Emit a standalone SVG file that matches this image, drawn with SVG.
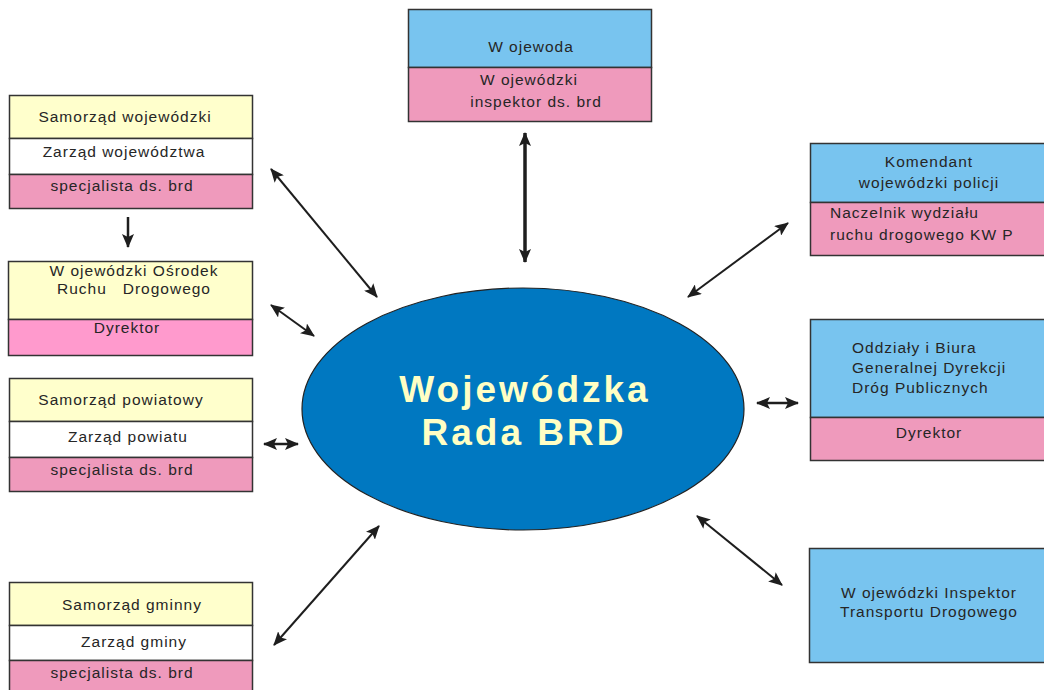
<svg xmlns="http://www.w3.org/2000/svg" width="1044" height="690" viewBox="0 0 1044 690">
<style>
.box{stroke:#333;stroke-width:1.5}
.y{fill:#FFFFCC}.w{fill:#FFFFFF}.p{fill:#EF9ABC}.p2{fill:#FF9ACD}.b{fill:#78C4EF}
.t{font-family:"Liberation Sans",Arial,sans-serif;font-size:15.5px;fill:#262626;letter-spacing:1px;text-anchor:middle;white-space:pre}
.l{text-anchor:start}
.big{font-family:"Liberation Sans",Arial,sans-serif;font-size:37px;font-weight:bold;fill:#FFFFC4;letter-spacing:3px;text-anchor:middle}
.c{stroke:#1e1e1e;stroke-width:2;fill:none;marker-start:url(#a);marker-end:url(#a)}
</style>
<defs>
<marker id="a" viewBox="0 0 14 12" refX="13" refY="6" markerWidth="14" markerHeight="12" markerUnits="userSpaceOnUse" orient="auto-start-reverse">
<path d="M0,0 L14,6 L0,12 L3,6 Z" fill="#1e1e1e"/>
</marker>
</defs>
<g id="connectors">
<line class="c" x1="271" y1="169" x2="377" y2="297"/>
<line class="c" x1="271" y1="305" x2="314" y2="336"/>
<line class="c" x1="264" y1="444" x2="298" y2="444" style="stroke-width:2.5"/>
<line class="c" x1="274" y1="645" x2="379" y2="526"/>
<line class="c" x1="525" y1="133" x2="525" y2="262" style="stroke-width:3.5"/>
<line class="c" x1="688" y1="297" x2="788" y2="223"/>
<line class="c" x1="757" y1="403" x2="798" y2="403" style="stroke-width:2.5"/>
<line class="c" x1="697" y1="516" x2="782" y2="585"/>
<line x1="128" y1="217" x2="128" y2="247" stroke="#1e1e1e" stroke-width="2.5" marker-end="url(#a)"/>
</g>
<g id="rada">
<ellipse cx="523" cy="409" rx="221" ry="121" fill="#0078C1" stroke="#222" stroke-width="1.2"/>
<text class="big" x="525" y="402">Wojewódzka</text>
<text class="big" x="524" y="445">Rada BRD</text>
</g>
<g id="samorzad-wojewodzki">
<rect class="box y" x="9.5" y="95.5" width="243" height="43"/>
<rect class="box w" x="9.5" y="138.5" width="243" height="36"/>
<rect class="box p" x="9.5" y="174.5" width="243" height="34"/>
<text class="t" x="125" y="122">Samorząd wojewódzki</text>
<text class="t" x="124" y="157">Zarząd województwa</text>
<text class="t" x="122" y="191">specjalista ds. brd</text>
</g>
<g id="word">
<rect class="box y" x="8.5" y="261.5" width="244" height="58"/>
<rect class="box p2" x="8.5" y="319.5" width="244" height="36"/>
<text class="t" x="134" y="276">W ojewódzki Ośrodek</text>
<text class="t" x="134" y="294">Ruchu   Drogowego</text>
<text class="t" x="127" y="333">Dyrektor</text>
</g>
<g id="samorzad-powiatowy">
<rect class="box y" x="9.5" y="378.5" width="243" height="43"/>
<rect class="box w" x="9.5" y="421.5" width="243" height="36"/>
<rect class="box p" x="9.5" y="457.5" width="243" height="34"/>
<text class="t" x="121" y="405">Samorząd powiatowy</text>
<text class="t" x="128" y="442">Zarząd powiatu</text>
<text class="t" x="122" y="475">specjalista ds. brd</text>
</g>
<g id="samorzad-gminny">
<rect class="box y" x="9.5" y="582.5" width="243" height="43"/>
<rect class="box w" x="9.5" y="625.5" width="243" height="35"/>
<rect class="box p" x="9.5" y="660.5" width="243" height="40"/>
<text class="t" x="132" y="610">Samorząd gminny</text>
<text class="t" x="134" y="647">Zarząd gminy</text>
<text class="t" x="122" y="678">specjalista ds. brd</text>
</g>
<g id="wojewoda">
<rect class="box b" x="408.5" y="9.5" width="243" height="58"/>
<rect class="box p" x="408.5" y="67.5" width="243" height="54"/>
<text class="t" x="531" y="52">W ojewoda</text>
<text class="t" x="529" y="85">W ojewódzki</text>
<text class="t" x="536" y="107">inspektor ds. brd</text>
</g>
<g id="komendant">
<rect class="box b" x="810.5" y="143.5" width="240" height="59"/>
<rect class="box p" x="810.5" y="202.5" width="240" height="53"/>
<text class="t" x="929" y="167">Komendant</text>
<text class="t" x="929" y="188">wojewódzki policji</text>
<text class="t l" x="830" y="218">Naczelnik wydziału</text>
<text class="t l" x="830" y="240">ruchu drogowego KW P</text>
</g>
<g id="gddkia">
<rect class="box b" x="810.5" y="319.5" width="240" height="98"/>
<rect class="box p" x="810.5" y="417.5" width="240" height="43"/>
<text class="t l" x="852" y="353">Oddziały i Biura</text>
<text class="t l" x="852" y="373">Generalnej Dyrekcji</text>
<text class="t l" x="852" y="393">Dróg Publicznych</text>
<text class="t" x="929" y="438">Dyrektor</text>
</g>
<g id="witd">
<rect class="box b" x="809.5" y="548.5" width="241" height="114"/>
<text class="t" x="929" y="598">W ojewódzki Inspektor</text>
<text class="t" x="929" y="617">Transportu Drogowego</text>
</g>
</svg>
